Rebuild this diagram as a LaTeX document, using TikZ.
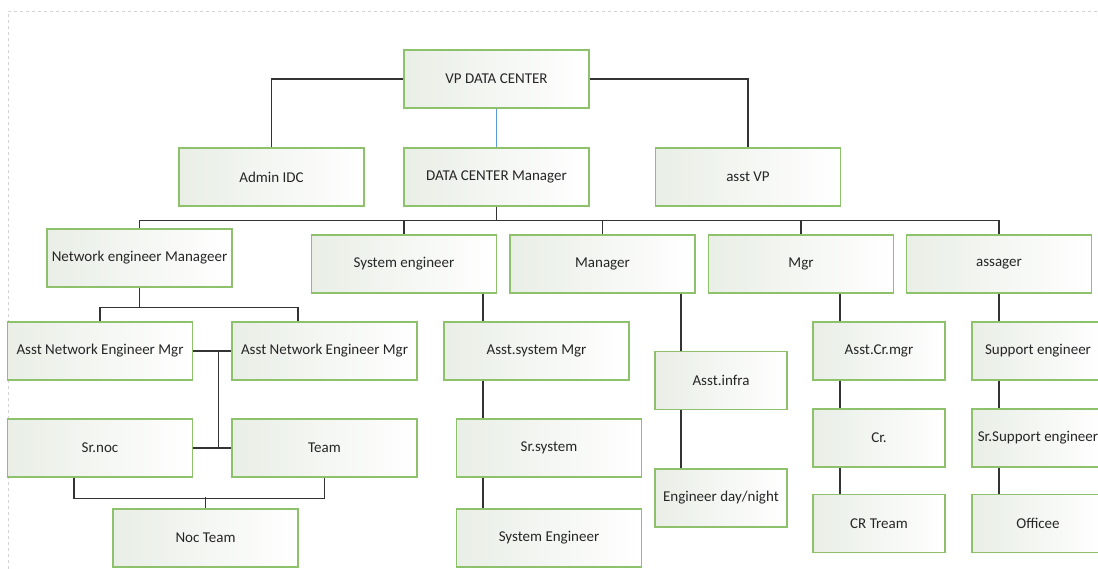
\documentclass[tikz,border=0pt]{standalone}
\usepackage{fontspec}
\setmainfont{Carlito}
\usepackage{tikz}
\usetikzlibrary{calc}
\definecolor{boxline}{HTML}{8DC16B}
\definecolor{boxtint}{HTML}{E9EEE6}
\definecolor{textgray}{HTML}{262626}
\definecolor{wiregray}{HTML}{333333}
\definecolor{wireblue}{HTML}{5B9BD5}
\definecolor{framegray}{HTML}{D4D4D4}

\begin{document}
\begin{tikzpicture}[x=1pt,y=-1pt,
    box/.style={draw=boxline,line width=1.4pt,rectangle,
      left color=boxtint,right color=white,text=textgray,
      minimum height=58pt,inner sep=2pt,
      font=\fontsize{15}{17}\selectfont},
    wide/.style={box,minimum width=185pt},
    narrow/.style={box,minimum width=132pt},
    wire/.style={draw=wiregray,line width=1.2pt}]
  \useasboundingbox (0,0) rectangle (1098,569);
  \draw[framegray,dashed,line width=0.8pt] (8,575) -- (8,11) -- (1104,11);

  % top
  \node[wide] (vp) at (496.5,79) {VP DATA CENTER};
  \node[wide] (admin) at (271.5,177) {Admin IDC};
  \node[wide] (dcm) at (496.5,177) {DATA CENTER Manager};
  \node[wide] (avp) at (748,177) {asst VP};

  % second row
  \node[wide] (net) at (139.5,258) {Network engineer Manageer};
  \node[wide] (sys) at (404,264) {System engineer};
  \node[wide] (man) at (602.5,264) {Manager};
  \node[wide] (mgr) at (801,264) {Mgr};
  \node[wide] (ass) at (999,264) {assager};

  % network column
  \node[wide] (anm1) at (100,351) {Asst Network Engineer Mgr};
  \node[wide] (anm2) at (324.5,351) {Asst Network Engineer Mgr};
  \node[wide] (srnoc) at (100,448) {Sr.noc};
  \node[wide] (team) at (324.5,448) {Team};
  \node[wide] (noc) at (205.5,538) {Noc Team};

  % system column
  \node[wide] (asys) at (536.5,351) {Asst.system Mgr};
  \node[wide] (srsys) at (549,448) {Sr.system};
  \node[wide] (syseng) at (549,538) {System Engineer};

  % infra column
  \node[narrow] (infra) at (721,380.5) {Asst.infra};
  \node[narrow] (eng) at (721,498) {Engineer day/night};

  % cr column
  \node[narrow] (acr) at (879,351) {Asst.Cr.mgr};
  \node[narrow] (cr) at (879,438) {Cr.};
  \node[narrow] (crt) at (879,523.5) {CR Tream};

  % support column
  \node[narrow] (sup) at (1038,351) {Support engineer};
  \node[narrow] (srsup) at (1038,438) {Sr.Support engineer};
  \node[narrow] (off) at (1038,523.5) {Officee};

  \draw[wire] (vp.west) -| (admin.north);
  \draw[wire] (vp.east) -| (avp.north);
  \draw[wireblue,line width=1.2pt] (vp) -- (dcm);

  \draw[wire] (dcm.south) -- ++(0,14) coordinate (bus);
  \draw[wire] (bus) -| (net.north);
  \draw[wire] (bus) -| (sys.north);
  \draw[wire] (bus) -| (man.north);
  \draw[wire] (bus) -| (mgr.north);
  \draw[wire] (bus) -| (ass.north);

  \draw[wire] (net.south) -- ++(0,20) coordinate (nb);
  \draw[wire] (nb) -| (anm1.north);
  \draw[wire] (nb) -| ([xshift=-26.5pt]anm2.north);
  \draw[wire] (anm1.east) -- (anm2.west);
  \draw[wire] (srnoc.east) -- (team.west);
  \draw[wire] ($(anm1.east)!0.67!(anm2.west)$) -- ($(srnoc.east)!0.67!(team.west)$);
  \draw[wire] ([xshift=-26pt]srnoc.south) -- ++(0,21) -| (team.south);
  \draw[wire] (noc.north) -- ++(0,-11);

  \coordinate (sx) at ([xshift=79pt]sys.south);
  \draw[wire] (sx) -- (sx |- asys.north)
    (sx |- asys.south) -- (sx |- srsys.north)
    (sx |- srsys.south) -- (sx |- syseng.north);

  \coordinate (mx) at ([xshift=78.5pt]man.south);
  \draw[wire] (mx) -- (mx |- infra.north)
    (mx |- infra.south) -- (mx |- eng.north);

  \coordinate (cx) at ([xshift=39pt]mgr.south);
  \draw[wire] (cx) -- (cx |- acr.north)
    (cx |- acr.south) -- (cx |- cr.north)
    (cx |- cr.south) -- (cx |- crt.north);

  \coordinate (ax) at (ass.south);
  \draw[wire] (ax) -- (ax |- sup.north)
    (ax |- sup.south) -- (ax |- srsup.north)
    (ax |- srsup.south) -- (ax |- off.north);
\end{tikzpicture}
\end{document}
